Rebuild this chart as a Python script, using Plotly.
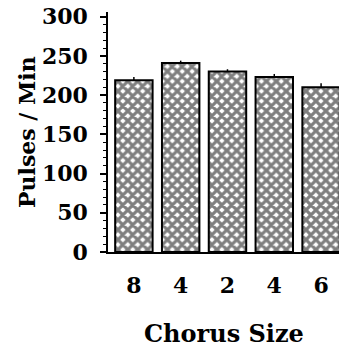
import plotly.graph_objects as go

categories = ["8", "4", "2", "4 ", "6"]
pulses = [219, 241, 230, 223, 210]
errors = [4, 3, 3, 4, 5]
y_ticks = [0, 50, 100, 150, 200, 250, 300]

W, H = 339, 348
L, T, B, R = 108, 12, 96, 0

fig = go.Figure()
fig.add_trace(go.Bar(
    x=list(range(len(categories))),
    y=pulses,
    width=0.8,
    marker=dict(
        color="white",
        line=dict(color="black", width=2),
        pattern=dict(shape="x", fgcolor="black", bgcolor="white", size=7, solidity=0.7),
    ),
    error_y=dict(type="data", array=errors, arrayminus=[0]*len(errors), symmetric=False,
                 color="black", thickness=1.5, width=0),
))

font_family = "DejaVu Serif"
fig.update_layout(
    width=W, height=H,
    margin=dict(l=L, r=R, t=T, b=B, pad=0),
    paper_bgcolor="white", plot_bgcolor="white",
    showlegend=False,
    bargap=0.2,
    font=dict(family=font_family),
    xaxis=dict(
        range=[-0.553, 4.383],
        tickmode="array",
        tickvals=list(range(len(categories))),
        ticktext=["<b>%s</b>" % c.strip() for c in categories],
        ticks="",
        showgrid=False, zeroline=False,
        showline=True, linecolor="black", linewidth=2,
        tickfont=dict(family=font_family, size=22, color="black"),
        ticklabelstandoff=13,
    ),
    yaxis=dict(
        range=[0, 306],
        tickmode="array",
        tickvals=y_ticks,
        ticktext=["<b>%d</b>" % v for v in y_ticks],
        ticks="outside", ticklen=6, tickwidth=1.5, tickcolor="black",
        minor=dict(dtick=10, ticks="outside", ticklen=3, tickwidth=1, tickcolor="black", showgrid=False),
        showgrid=False, zeroline=False,
        showline=True, linecolor="black", linewidth=1.5,
        tickfont=dict(family=font_family, size=22, color="black"),
        ticklabelstandoff=8,
    ),
    annotations=[
        dict(text="<b>Pulses / Min</b>", x=27, y=H-132, xref="paper", yref="paper",
             showarrow=False, textangle=-90,
             font=dict(family=font_family, size=22, color="black"),
             xanchor="center", yanchor="middle"),
        dict(text="<b>Chorus Size</b>", x=224, y=H-333, xref="paper", yref="paper",
             showarrow=False,
             font=dict(family=font_family, size=24, color="black"),
             xanchor="center", yanchor="middle"),
    ],
)

pw, ph = W - L - R, H - T - B
for a in fig.layout.annotations:
    a.x = (a.x - L) / pw
    a.y = (a.y - B) / ph

fig.write_html("out.html")
